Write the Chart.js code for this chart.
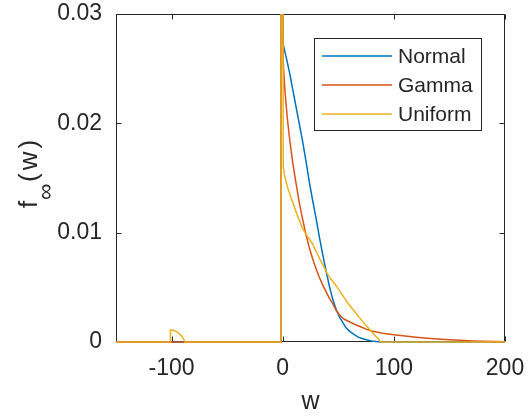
<!DOCTYPE html>
<html lang="en">

<head>
    <meta charset="UTF-8">
    <title>f_inf(w)</title>
    <script src="https://cdn.jsdelivr.net/npm/chart.js"></script>
    <style>
        body { margin: 0; background: #fff; }
    </style>
</head>

<body>
    <canvas id="densityChart" width="529" height="419"></canvas>

    <script>
        // values (w, f_inf(w)); 0.1 marks the spike at w = 0 that runs off the top
        const seriesLabels = ['Normal', 'Gamma', 'Uniform'];
        const seriesColors = ['#0072BD', '#D95319', '#EDB120'];

        const normalW = [-150, -1.5, -1.5, 0.5, 3, 6, 9, 12, 15, 18, 21, 24, 27, 30, 33, 36, 39, 42, 45, 48, 51, 54, 57, 60, 64, 68, 72, 76, 80, 84, 88, 92, 200];
        const normalF = [0, 0, 0.1, 0.0272, 0.0261, 0.0247, 0.0231, 0.0215, 0.0199, 0.0183, 0.0165, 0.0146, 0.0129, 0.0113, 0.0096, 0.0080, 0.0065, 0.0051, 0.0039, 0.0030, 0.0023, 0.0018, 0.0013, 0.0010, 0.0007, 0.00045, 0.0003, 0.00018, 0.0001, 0.00004, 0.00001, 0, 0];

        const gammaW = [-150, -1.5, -1.5, 0.5, 2, 4, 6.3, 9, 12, 15, 18, 21, 24, 27, 30, 33, 36, 39, 42, 45, 48, 51, 55, 60, 65, 70, 75, 80, 90, 100, 110, 120, 130, 140, 150, 160, 170, 180, 190, 200];
        const gammaF = [0, 0, 0.1, 0.0255, 0.0230, 0.0206, 0.0185, 0.0164, 0.0145, 0.0127, 0.0112, 0.0098, 0.0086, 0.0076, 0.0067, 0.0059, 0.0052, 0.0046, 0.0040, 0.0035, 0.0029, 0.0025, 0.0021, 0.00185, 0.0016, 0.0014, 0.00118, 0.0010, 0.0008, 0.00066, 0.00054, 0.00044, 0.00035, 0.00027, 0.0002, 0.00015, 0.0001, 0.00007, 0.00005, 0.00003];

        const uniformW = [-150, -101, -101, -98.5, -96, -93.5, -91, -89, -88, -1.5, -1.5, 0.5, 2, 4.8, 9.3, 13.8, 17, 20, 24, 27.3, 30, 33.3, 36, 39.3, 43, 47, 51, 55, 59, 63, 67, 71, 75, 79, 83, 86, 88, 200];
        const uniformF = [0, 0, 0.0011, 0.00107, 0.00097, 0.0008, 0.00055, 0.00025, 0, 0, 0.1, 0.0160, 0.0151, 0.0140, 0.0127, 0.0114, 0.0106, 0.0100, 0.0094, 0.0089, 0.0083, 0.0076, 0.0071, 0.0064, 0.0058, 0.0053, 0.0047, 0.0041, 0.0035, 0.0030, 0.0025, 0.0020, 0.0015, 0.00105, 0.0006, 0.0003, 0, 0];

        const xTicks = [-100, 0, 100, 200];
        const yTicks = [0, 0.01, 0.02, 0.03];

        const FONT = "'Liberation Sans', Arial, sans-serif";
        const AXIS_COLOR = '#262626';

        function toPoints(ws, fs) {
            return ws.map((w, i) => ({ x: w, y: fs[i] }));
        }

        const allSeries = [toPoints(normalW, normalF), toPoints(gammaW, gammaF), toPoints(uniformW, uniformF)];

        // Uniform on top, Normal at the bottom (same as the figure)
        const datasets = allSeries.map((pts, i) => ({
            label: seriesLabels[i],
            data: pts,
            showLine: true,
            borderColor: seriesColors[i],
            backgroundColor: seriesColors[i],
            borderWidth: 1.5,
            pointRadius: 0,
            tension: 0,
            order: 2 - i,
            clip: { left: 2, right: 2, top: 0, bottom: 3 }
        }));

        // box with inward ticks on all four sides
        const framePlugin = {
            id: 'frame',
            beforeDatasetsDraw(chart) {
                const { ctx, chartArea: a, scales } = chart;
                const l = Math.round(a.left) + 0.5, r = Math.round(a.right) - 0.5;
                const t = Math.round(a.top) + 0.5, b = Math.round(a.bottom) - 0.5;
                ctx.save();
                ctx.strokeStyle = AXIS_COLOR;
                ctx.lineWidth = 1;
                ctx.strokeRect(l, t, r - l, b - t);
                ctx.beginPath();
                xTicks.forEach(v => {
                    const px = Math.round(scales.x.getPixelForValue(v)) + 0.5;
                    ctx.moveTo(px, b); ctx.lineTo(px, b - 5);
                    ctx.moveTo(px, t); ctx.lineTo(px, t + 5);
                });
                yTicks.forEach(v => {
                    const py = Math.round(scales.y.getPixelForValue(v)) + 0.5;
                    ctx.moveTo(l, py); ctx.lineTo(l + 5, py);
                    ctx.moveTo(r, py); ctx.lineTo(r - 5, py);
                });
                ctx.stroke();
                ctx.restore();
            },
            afterDraw(chart) {
                const { ctx } = chart;
                ctx.save();

                // y axis title f_inf(w), rotated
                ctx.fillStyle = AXIS_COLOR;
                ctx.translate(37, 209);
                ctx.rotate(-Math.PI / 2);
                ctx.textBaseline = 'alphabetic';
                ctx.textAlign = 'left';
                ctx.font = '26px ' + FONT;
                ctx.fillText('f', 1, 0);
                ctx.font = '23px ' + FONT;
                ctx.fillText('\u221E', 9, 16);
                ctx.font = '26px ' + FONT;
                ctx.letterSpacing = '3px';
                ctx.fillText('(w)', 27, 0);
                ctx.restore();

                // legend box
                ctx.save();
                const bx = 314.5, by = 38.5, bw = 167, bh = 92;
                ctx.fillStyle = '#fff';
                ctx.fillRect(bx, by, bw, bh);
                ctx.strokeStyle = AXIS_COLOR;
                ctx.lineWidth = 1;
                ctx.strokeRect(bx, by, bw, bh);
                const rows = [56, 85, 114];
                ctx.font = '21px ' + FONT;
                ctx.textBaseline = 'middle';
                ctx.textAlign = 'left';
                seriesLabels.forEach((label, i) => {
                    ctx.strokeStyle = seriesColors[i];
                    ctx.lineWidth = 1.5;
                    ctx.beginPath();
                    ctx.moveTo(322, rows[i]);
                    ctx.lineTo(392, rows[i]);
                    ctx.stroke();
                    ctx.fillStyle = AXIS_COLOR;
                    ctx.fillText(label, 398, rows[i] + 1.5);
                });
                ctx.restore();
            }
        };

        const ctx = document.getElementById('densityChart').getContext('2d');
        new Chart(ctx, {
            type: 'scatter',
            data: { datasets: datasets },
            options: {
                responsive: false,
                animation: false,
                layout: { padding: { left: 0, top: 14, right: 24, bottom: 0 } },
                plugins: {
                    legend: { display: false },
                    tooltip: { enabled: false }
                },
                scales: {
                    x: {
                        type: 'linear',
                        min: -150,
                        max: 200,
                        afterBuildTicks: s => { s.ticks = xTicks.map(v => ({ value: v })); },
                        afterFit: s => { s.height = 77; s.paddingLeft = 0; s.paddingRight = 0; },
                        grid: { display: false, drawTicks: false },
                        border: { display: false },
                        ticks: {
                            padding: 13,
                            color: AXIS_COLOR,
                            font: { family: FONT, size: 23 },
                            maxRotation: 0,
                            callback: v => String(v)
                        },
                        title: {
                            display: true,
                            text: 'w',
                            color: AXIS_COLOR,
                            font: { family: FONT, size: 25 },
                            padding: { top: 0, bottom: 2 }
                        }
                    },
                    y: {
                        type: 'linear',
                        min: 0,
                        max: 0.03,
                        afterBuildTicks: s => { s.ticks = yTicks.map(v => ({ value: v })); },
                        afterFit: s => { s.width = 116; s.paddingTop = 0; s.paddingBottom = 0; },
                        grid: { display: false, drawTicks: false },
                        border: { display: false },
                        ticks: {
                            padding: 14,
                            color: AXIS_COLOR,
                            font: { family: FONT, size: 23 },
                            callback: v => (v === 0 ? '0' : String(v))
                        }
                    }
                }
            },
            plugins: [framePlugin]
        });
    </script>
</body>

</html>
